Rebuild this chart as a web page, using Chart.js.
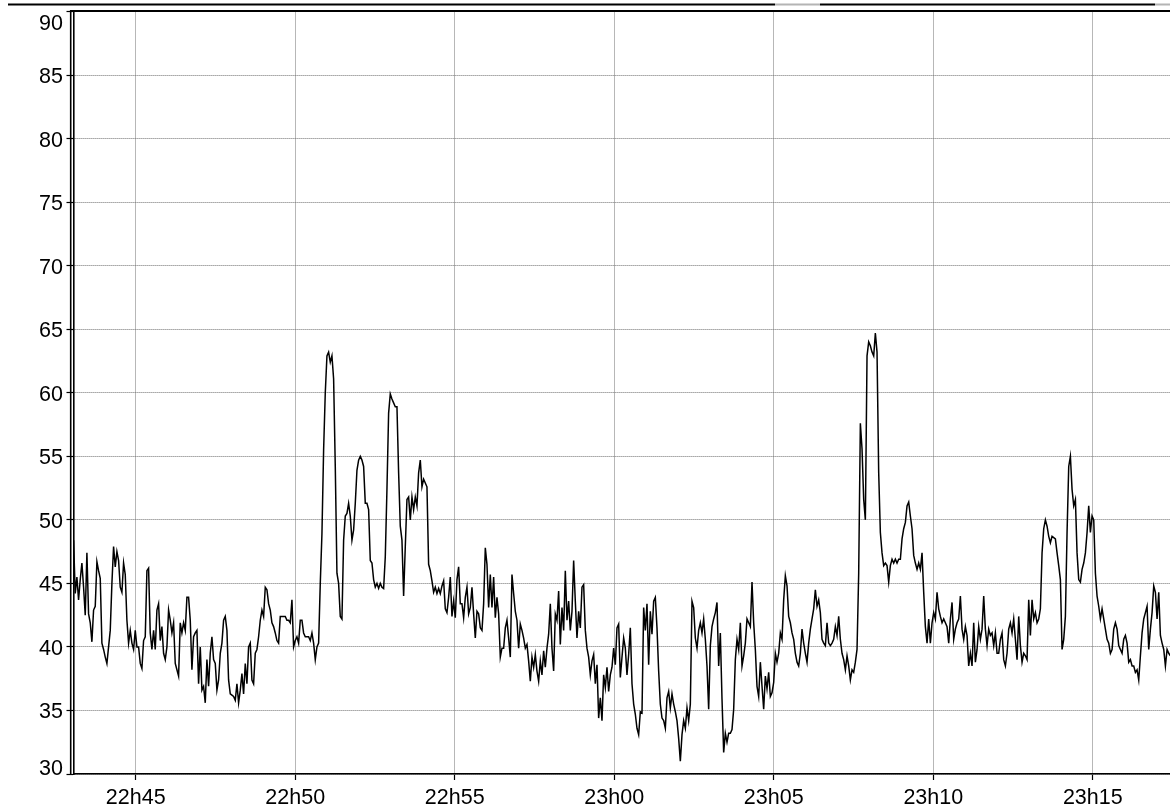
<!DOCTYPE html>
<html>
<head>
<meta charset="utf-8">
<script src="https://cdn.jsdelivr.net/npm/chart.js@4.4.1/dist/chart.umd.min.js"></script>
<style>
  html, body { margin: 0; padding: 0; background: #fff; }
  #caja { width: 1170px; height: 812px; }
</style>
</head>
<body>
<div id="caja"><canvas id="grafico" width="1170" height="812"></canvas></div>
<script>
// minutos despues de las 22h00
const startMinute = 43.0;
const sampleMinutes = 0.05225;

const levels = [
  43.9, 48.4, 44.2, 45.5, 43.7, 45.3, 46.6, 44.7, 42.5, 47.4,
  42.6, 41.9, 40.4, 42.9, 43.2, 46.7, 46.0, 45.4, 40.3, 39.8,
  39.2, 38.7, 40.0, 41.3, 45.0, 47.9, 46.3, 47.5, 46.8, 44.7,
  44.3, 46.6, 45.7, 42.1, 40.3, 41.3, 40.3, 39.8, 41.3, 40.0,
  40.0, 38.7, 38.3, 40.5, 40.8, 46.0, 46.2, 41.1, 39.8, 41.3,
  39.8, 42.9, 43.4, 40.5, 41.6, 39.5, 39.0, 40.0, 42.9, 42.1,
  41.1, 41.9, 38.7, 38.2, 37.7, 41.9, 41.1, 41.9, 41.3, 43.9,
  43.9, 42.1, 38.2, 40.8, 41.1, 41.3, 37.1, 40.0, 36.6, 36.9,
  35.6, 39.0, 36.9, 39.5, 40.8, 39.0, 38.7, 36.6, 37.4, 39.5,
  40.3, 42.1, 42.4, 41.3, 37.4, 36.3, 36.2, 36.1, 35.8, 37.1,
  35.6, 36.6, 37.9, 36.3, 38.7, 37.1, 40.0, 40.3, 37.4, 37.1,
  39.5, 39.8, 40.8, 42.1, 42.9, 42.4, 44.7, 44.5, 43.4, 42.9,
  41.9, 41.6, 41.1, 40.5, 40.3, 42.4, 42.4, 42.4, 42.4, 42.1,
  42.1, 41.9, 43.7, 40.0, 40.5, 40.8, 40.3, 42.1, 42.1, 41.1,
  40.8, 40.8, 40.8, 40.5, 41.1, 40.3, 39.0, 40.0, 40.3, 45.0,
  48.9, 55.5, 60.0, 62.9, 63.2, 62.4, 62.9, 61.1, 54.2, 45.8,
  45.0, 42.4, 42.2, 48.4, 50.3, 50.5, 51.3, 50.3, 48.4, 49.2,
  51.3, 53.9, 54.7, 55.0, 54.7, 54.2, 51.3, 51.3, 50.8, 46.8,
  46.6, 45.3, 44.7, 45.0, 44.6, 45.0, 44.7, 44.6, 47.1, 52.4,
  58.4, 59.9, 59.5, 59.2, 58.9, 58.9, 53.7, 49.5, 48.4, 44.0,
  47.9, 51.6, 51.8, 50.0, 51.8, 50.8, 51.8, 51.1, 53.7, 54.7,
  52.6, 53.2, 52.9, 52.6, 46.5, 46.0, 45.2, 44.3, 44.7, 44.2,
  44.6, 44.2, 44.8, 45.2, 43.0, 42.7, 43.9, 45.5, 42.4, 43.6,
  42.3, 45.3, 46.3, 43.4, 43.4, 42.3, 43.9, 44.7, 42.6, 43.1,
  44.7, 42.6, 40.7, 42.8, 42.6, 41.5, 41.3, 43.4, 47.8, 46.5,
  43.1, 45.7, 43.1, 45.5, 42.3, 43.9, 42.6, 39.2, 39.9, 39.9,
  41.5, 42.1, 40.7, 39.2, 45.7, 44.2, 42.8, 42.1, 39.9, 41.8,
  41.3, 40.7, 39.9, 40.2, 38.9, 37.3, 39.2, 38.4, 39.4, 38.1,
  37.3, 38.9, 37.8, 39.7, 38.4, 39.9, 41.0, 43.4, 39.9, 38.1,
  42.6, 42.1, 44.4, 40.2, 43.1, 41.3, 46.0, 42.1, 43.6, 41.3,
  42.8, 46.8, 43.6, 40.7, 42.8, 41.5, 44.7, 44.9, 41.3, 39.9,
  39.2, 37.8, 38.9, 39.4, 37.1, 38.6, 34.4, 36.0, 34.2, 37.8,
  36.8, 38.4, 36.5, 37.8, 38.4, 39.9, 38.6, 41.5, 41.8, 37.6,
  39.2, 40.7, 39.9, 37.8, 39.4, 41.5, 37.1, 35.5, 34.7, 33.6,
  33.1, 34.9, 34.8, 43.1, 41.3, 43.4, 38.6, 42.8, 41.0, 43.6,
  43.9, 41.5, 38.1, 35.5, 34.4, 34.2, 33.6, 36.0, 36.5, 35.2,
  36.3, 35.5, 34.9, 34.2, 32.8, 31.0, 33.1, 34.2, 33.6, 35.2,
  34.2, 35.5, 43.6, 43.1, 40.7, 39.9, 41.3, 41.9, 41.1, 42.2,
  40.6, 38.5, 35.1, 40.1, 41.6, 42.2, 42.7, 43.5, 38.5, 41.1,
  35.9, 31.7, 33.2, 32.5, 33.2, 33.2, 33.5, 35.1, 39.0, 40.6,
  39.8, 41.9, 38.5, 39.3, 40.3, 42.2, 41.9, 41.6, 45.1, 41.9,
  39.8, 36.9, 36.1, 38.8, 36.9, 35.1, 37.7, 36.7, 38.0, 36.1,
  36.4, 37.2, 39.5, 38.8, 39.5, 41.1, 40.6, 43.7, 45.6, 44.8,
  42.4, 41.9, 41.1, 40.6, 39.5, 38.8, 38.5, 39.5, 41.4, 40.3,
  39.5, 38.8, 40.3, 41.4, 42.2, 43.0, 44.5, 43.2, 43.7, 42.7,
  40.6, 40.3, 40.1, 41.9, 40.3, 40.1, 40.3, 40.6, 41.6, 40.9,
  42.4, 40.6, 39.5, 39.0, 38.2, 39.3, 38.5, 37.4, 38.2, 38.0,
  38.8, 39.8, 45.8, 57.6, 55.6, 51.6, 50.0, 62.9, 64.0, 63.7,
  63.2, 62.9, 64.7, 63.2, 53.7, 49.0, 47.4, 46.4, 46.6, 46.4,
  45.1, 46.4, 46.9, 46.6, 46.9, 46.6, 46.9, 46.9, 48.5, 49.3,
  49.8, 51.1, 51.4, 50.3, 49.3, 47.2, 46.6, 46.1, 46.6, 46.1,
  47.4, 44.3, 41.6, 40.3, 42.2, 40.3, 41.9, 42.7, 42.2, 44.3,
  43.0, 42.4, 41.9, 42.2, 41.9, 41.6, 40.3, 42.2, 43.5, 40.6,
  41.4, 41.9, 42.2, 44.0, 41.4, 40.6, 41.6, 40.9, 38.5, 39.5,
  38.5, 41.9, 38.8, 39.8, 41.6, 40.6, 41.4, 44.0, 41.4, 40.1,
  41.4, 40.9, 41.1, 40.1, 41.1, 39.5, 39.5, 40.6, 41.1, 39.0,
  38.5, 39.5, 41.4, 41.9, 41.1, 42.2, 40.6, 39.0, 42.4, 40.1,
  38.8, 39.5, 39.3, 39.0, 43.7, 40.9, 43.7, 42.2, 42.7, 41.9,
  42.2, 43.0, 47.4, 49.3, 50.0, 49.5, 48.7, 48.2, 48.7, 48.6,
  48.5, 47.4, 46.4, 45.3, 39.8, 40.6, 42.4, 49.0, 54.2, 55.0,
  52.4, 51.1, 51.6, 47.4, 45.3, 45.1, 46.1, 46.6, 47.4, 49.0,
  51.1, 49.0, 50.3, 50.0, 45.8, 44.0, 43.2, 42.2, 43.0, 42.2,
  41.4, 40.6, 40.3, 39.5, 39.8, 41.4, 41.9, 41.4, 40.1, 39.8,
  39.5, 40.6, 40.9, 40.3, 38.8, 39.0, 38.5, 38.5, 38.0, 38.2,
  37.4, 39.3, 41.1, 42.2, 42.7, 43.2, 39.8, 41.4, 42.7, 44.8,
  44.3, 42.2, 44.3, 40.9, 40.3, 39.8, 38.5, 39.8, 39.5, 39.3
];

const timeTicks = [45, 50, 55, 60, 65, 70, 75];
const timeLabels = ['22h45', '22h50', '22h55', '23h00', '23h05', '23h10', '23h15'];
const levelTicks = [30, 35, 40, 45, 50, 55, 60, 65, 70, 75, 80, 85, 90];

const fuente = '21.5px "Liberation Sans", Arial, sans-serif';

let puntos = levels.map((v, i) => ({ x: startMinute + i * sampleMinutes, y: v }));

// marco, reglas y etiquetas de los ejes
const marco = {
    id: 'marco',
    afterDraw(chart) {
        const ctx = chart.ctx;
        const area = chart.chartArea;
        const sx = chart.scales.x;
        const sy = chart.scales.y;

        ctx.save();
        // regla superior
        ctx.lineWidth = 2;
        ctx.strokeStyle = '#000';
        ctx.beginPath();
        ctx.moveTo(8, area.top - 7);
        ctx.lineTo(775, area.top - 7);
        ctx.moveTo(820, area.top - 7);
        ctx.lineTo(1155, area.top - 7);
        ctx.stroke();
        ctx.strokeStyle = '#b4b4b4';
        ctx.beginPath();
        ctx.moveTo(775, area.top - 7);
        ctx.lineTo(820, area.top - 7);
        ctx.moveTo(1155, area.top - 7);
        ctx.lineTo(chart.width, area.top - 7);
        ctx.stroke();

        // borde superior y doble linea izquierda
        ctx.strokeStyle = '#000';
        ctx.lineWidth = 2;
        ctx.beginPath();
        ctx.moveTo(area.left - 3.5, area.top - 0.5);
        ctx.lineTo(area.right, area.top - 0.5);
        ctx.stroke();
        ctx.lineWidth = 1.6;
        ctx.beginPath();
        ctx.moveTo(area.left - 2.8, area.top - 1.5);
        ctx.lineTo(area.left - 2.8, area.bottom + 1);
        ctx.stroke();

        ctx.fillStyle = '#000';
        ctx.font = fuente;
        ctx.textBaseline = 'alphabetic';

        ctx.textAlign = 'right';
        levelTicks.forEach(v => {
            let y = sy.getPixelForValue(v) + 8;
            y = Math.max(y, area.top + 18.5);
            y = Math.min(y, area.bottom + 1);
            ctx.fillText(String(v), area.left - 10.5, y);
        });

        ctx.textAlign = 'center';
        timeTicks.forEach((t, i) => {
            ctx.fillText(timeLabels[i], sx.getPixelForValue(t), area.bottom + 30);
        });
        ctx.restore();
    }
};

const ctx = document.getElementById('grafico');

new Chart(ctx, {
    type: 'line',
    data: {
        datasets: [
            {
                data: puntos,
                borderColor: '#000',
                borderWidth: 1.5,
                pointRadius: 0,
                fill: false,
                tension: 0,
            },
        ],
    },
    options: {
        responsive: false,
        animation: false,
        events: [],
        layout: { padding: { top: 11.5, left: 0, right: 0, bottom: 0 } },
        plugins: {
            legend: { display: false },
            tooltip: { enabled: false },
        },
        scales: {
            x: {
                type: 'linear',
                min: 43.05,
                max: 77.42,
                afterFit: s => { s.height = 38; },
                afterBuildTicks: s => { s.ticks = timeTicks.map(v => ({ value: v })); },
                ticks: { display: false },
                grid: {
                    color: '#707070',
                    lineWidth: 1,
                    borderDash: [1, 1],
                    tickLength: 6,
                    tickColor: '#000',
                    tickWidth: 1.2,
                },
                border: { color: '#000', width: 1.6, dash: [1, 1] },
            },
            y: {
                min: 30,
                max: 90,
                afterFit: s => { s.width = 73.5; },
                afterBuildTicks: s => { s.ticks = levelTicks.map(v => ({ value: v })); },
                ticks: { display: false },
                grid: {
                    color: '#707070',
                    lineWidth: 1,
                    borderDash: [1, 1],
                    tickLength: 7,
                    tickColor: '#000',
                    tickWidth: 1.2,
                },
                border: { color: '#000', width: 1.6, dash: [1, 1] },
            },
        },
    },
    plugins: [marco],
});
</script>
</body>
</html>
